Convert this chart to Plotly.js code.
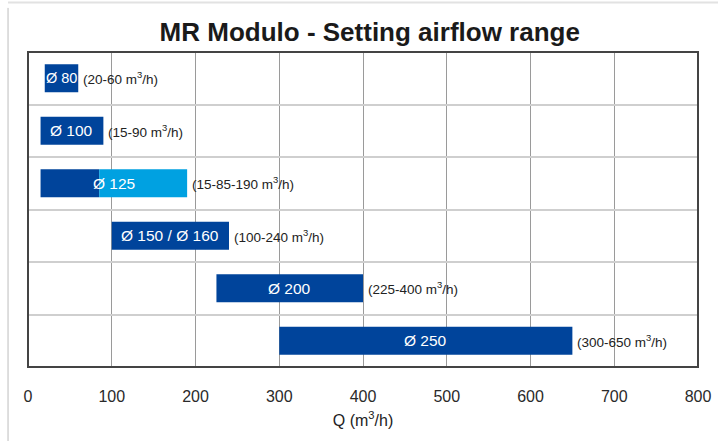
<!DOCTYPE html>
<html>
<head>
<meta charset="utf-8">
<script src="https://cdn.plot.ly/plotly-3.0.1.min.js"></script>
<style>html,body{margin:0;padding:0;background:#fff;}#chart{width:718px;height:441px;}</style>
</head>
<body>
<div id="chart"></div>
<script>
// Data
const sizes = ['Ø 80', 'Ø 100', 'Ø 125', 'Ø 150 / Ø 160', 'Ø 200', 'Ø 250'];
const qMin = [20, 15, 15, 100, 225, 300];
const qMax = [60, 90, 190, 240, 400, 650];
const qDarkEnd = [60, 90, 85, 240, 400, 650]; // Ø 125: dark part ends at 85
const rangeLabels = ['(20-60 m³/h)', '(15-90 m³/h)', '(15-85-190 m³/h)', '(100-240 m³/h)', '(225-400 m³/h)', '(300-650 m³/h)'];
const xTicks = [0, 100, 200, 300, 400, 500, 600, 700, 800];

const rows = sizes.map((s, i) => i);
const darkBlue = '#00449b';
const lightBlue = '#00a1e1';

const darkTrace = {
  type: 'bar', orientation: 'h',
  y: rows,
  base: qMin,
  x: qDarkEnd.map((e, i) => e - qMin[i]),
  width: 0.535,
  marker: {color: darkBlue},
  hoverinfo: 'skip'
};
const lightIdx = rows.filter((r, i) => qMax[i] > qDarkEnd[i]);
const lightTrace = {
  type: 'bar', orientation: 'h',
  y: lightIdx,
  base: lightIdx.map((i) => qDarkEnd[i]),
  x: lightIdx.map((i) => qMax[i] - qDarkEnd[i]),
  width: 0.535,
  marker: {color: lightBlue},
  hoverinfo: 'skip'
};

const font = '"Liberation Sans", Arial, Helvetica, sans-serif';
const annotations = [];
sizes.forEach((s, i) => {
  annotations.push({
    x: (qMin[i] + qMax[i]) / 2, y: i, xref: 'x', yref: 'y',
    text: s, showarrow: false, xanchor: 'center', yanchor: 'middle',
    font: {family: font, size: i === 0 ? 14.5 : 15.5, color: '#ffffff'}
  });
  annotations.push({
    x: qMax[i], y: i, xref: 'x', yref: 'y',
    text: rangeLabels[i].replace('m³', 'm<sup>3</sup>'), showarrow: false, xanchor: 'left', yanchor: 'middle',
    xshift: 3,
    font: {family: font, size: 13.5, color: '#222222'}
  });
});

const layout = {
  width: 718, height: 441,
  margin: {l: 28, r: 20, t: 52, b: 74},
  paper_bgcolor: '#ffffff', plot_bgcolor: '#ffffff',
  showlegend: false,
  barmode: 'overlay',
  title: {
    text: 'MR Modulo - Setting airflow range',
    font: {family: font, size: 26, color: '#1a1a1a', weight: 'bold'},
    x: 0.515, xanchor: 'center', y: 0.927, yanchor: 'middle'
  },
  xaxis: {
    range: [0, 800], tickvals: xTicks, ticktext: xTicks.map(String),
    showgrid: true, gridcolor: '#9a9a9a', gridwidth: 1,
    zeroline: false, showline: false, ticks: '',
    tickfont: {family: font, size: 16, color: '#2a2a2a'},
    ticklabelstandoff: 18,
    title: {text: 'Q (m<sup>3</sup>/h)', font: {family: font, size: 16, color: '#222222'}, standoff: 10}
  },
  yaxis: {
    range: [5.5, -0.5], tickvals: [0.5, 1.5, 2.5, 3.5, 4.5], showticklabels: false,
    showgrid: true, gridcolor: '#cfcfcf', gridwidth: 2,
    zeroline: false, showline: false, ticks: ''
  },
  annotations: annotations,
  shapes: [
    {type: 'rect', xref: 'paper', yref: 'paper', x0: 0, x1: 1, y0: 0, y1: 1,
     line: {color: '#444444', width: 2}, fillcolor: 'rgba(0,0,0,0)'},
    {type: 'line', xref: 'paper', yref: 'paper', x0: -0.0298, x1: -0.0298, y0: -0.235, y1: 1.14,
     line: {color: '#bdbdbd', width: 1}},
    {type: 'line', xref: 'paper', yref: 'paper', x0: -0.0298, x1: 1.03, y0: 1.157, y1: 1.157,
     line: {color: '#e2e2e2', width: 2}}
  ]
};

Plotly.newPlot('chart', [darkTrace, lightTrace], layout, {displayModeBar: false, staticPlot: true});
</script>
</body>
</html>
